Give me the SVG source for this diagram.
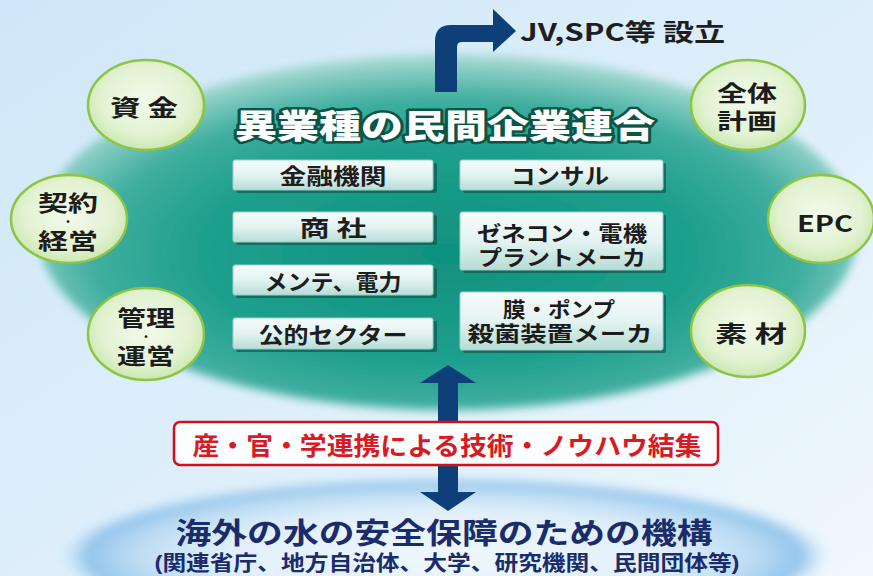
<svg xmlns="http://www.w3.org/2000/svg" width="873" height="576" viewBox="0 0 873 576">
<defs>
<linearGradient id="bg" x1="0" y1="0" x2="1" y2="1">
<stop offset="0" stop-color="#cfe7f8"/>
<stop offset="0.6" stop-color="#e0f0fb"/>
<stop offset="1" stop-color="#f0f8fd"/>
</linearGradient>
<radialGradient id="teal" cx="0.5" cy="0.56" r="0.6">
<stop offset="0" stop-color="#10907e"/>
<stop offset="0.5" stop-color="#1e9f8d"/>
<stop offset="0.72" stop-color="#3fae9f"/>
<stop offset="0.86" stop-color="#86ccc2"/>
<stop offset="0.97" stop-color="#c4e6e3"/>
<stop offset="1" stop-color="#d8eef2" stop-opacity="0"/>
</radialGradient>
<radialGradient id="blueglow" cx="0.5" cy="0.5" r="0.5">
<stop offset="0" stop-color="#eef7fd"/>
<stop offset="0.55" stop-color="#e2f0fb"/>
<stop offset="0.8" stop-color="#bcdcf3"/>
<stop offset="0.92" stop-color="#93c5ec"/>
<stop offset="1" stop-color="#cfe7f8" stop-opacity="0"/>
</radialGradient>
<radialGradient id="bub" cx="0.5" cy="0.45" r="0.55">
<stop offset="0" stop-color="#f3faea"/>
<stop offset="0.7" stop-color="#e2f2d2"/>
<stop offset="1" stop-color="#cbe8b0"/>
</radialGradient>
<linearGradient id="box" x1="0" y1="0" x2="0" y2="1">
<stop offset="0" stop-color="#f6fcfb"/>
<stop offset="0.5" stop-color="#e3f3f1"/>
<stop offset="1" stop-color="#b6dcd6"/>
</linearGradient>
<filter id="soft" x="-10%" y="-10%" width="120%" height="120%">
<feGaussianBlur stdDeviation="5"/>
</filter>
</defs>
<style>
.bubble{fill:url(#bub);stroke:#8dc443;stroke-width:2.5}
.shadow{fill:#0c5d52;opacity:0.75}
.card{fill:url(#box);stroke:#9fd0c8;stroke-width:1}
.bt{font-family:"Noto Sans CJK JP","Noto Sans",sans-serif;font-weight:bold;fill:#1e1e1e;text-anchor:middle}
.ml{font-family:"Liberation Sans","Noto Sans CJK JP",sans-serif;font-weight:bold;text-anchor:middle}
.ct{font-family:"Noto Sans CJK JP","Noto Sans",sans-serif;font-weight:bold;fill:#1c1c1c;text-anchor:middle}
.dark{fill:#1c1c1c}
.dot{font-weight:900;font-size:10px}
.arrow{fill:#0e3f78}
</style>
<rect x="0" y="0" width="873" height="576" fill="url(#bg)"/>
<ellipse cx="444" cy="556" rx="388" ry="80" fill="url(#blueglow)" filter="url(#soft)"/>
<ellipse cx="448" cy="232" rx="410" ry="178" fill="url(#teal)" filter="url(#soft)"/>

<g id="connectors">
<path class="arrow" d="M435,92 L435,41 Q435,25 451,25 L493,25 L493,9 L516,31 L493,52 L493,42 L462,42 Q457,42 457,47 L457,92 Z"/>
<path class="arrow" d="M448,365 L476,383 L458,383 L458,492 L476,492 L448,511 L420,492 L438,492 L438,383 L420,383 Z"/>
</g>

<g id="jv">
<text x="520" y="41" font-family="Noto Sans CJK JP, Noto Sans, sans-serif" font-weight="bold" font-size="24" fill="#1e1e1e" textLength="205" lengthAdjust="spacingAndGlyphs">JV,SPC等 設立</text>
</g>

<g id="title">
<text x="445" y="138" font-family="Noto Sans CJK JP, Noto Sans, sans-serif" font-weight="900" font-size="33" fill="#ffffff" stroke="#0b5547" stroke-width="5" stroke-linejoin="round" paint-order="stroke" text-anchor="middle" textLength="420" lengthAdjust="spacingAndGlyphs">異業種の民間企業連合</text>
</g>

<g id="n-kinyu"><rect class="shadow" x="236" y="163" width="201" height="30" rx="2"/><rect class="card" x="233" y="160" width="200" height="30" rx="2"/><text class="bt" x="333" y="184" font-size="22" textLength="107" lengthAdjust="spacingAndGlyphs">金融機関</text></g>
<g id="n-shosha"><rect class="shadow" x="236" y="215" width="201" height="30" rx="2"/><rect class="card" x="233" y="212" width="200" height="30" rx="2"/><text class="bt" x="333" y="236" font-size="22" textLength="67" lengthAdjust="spacingAndGlyphs">商 社</text></g>
<g id="n-mente"><rect class="shadow" x="236" y="268" width="201" height="30" rx="2"/><rect class="card" x="233" y="265" width="200" height="30" rx="2"/><text class="bt" x="333" y="290" font-size="22" textLength="137" lengthAdjust="spacingAndGlyphs">メンテ、電力</text></g>
<g id="n-koteki"><rect class="shadow" x="236" y="321" width="201" height="31" rx="2"/><rect class="card" x="233" y="318" width="200" height="31" rx="2"/><text class="bt" x="333" y="343" font-size="22" textLength="149" lengthAdjust="spacingAndGlyphs">公的セクター</text></g>
<g id="n-consul"><rect class="shadow" x="463" y="163" width="203" height="30" rx="2"/><rect class="card" x="460" y="160" width="203" height="30" rx="2"/><text class="bt" x="560" y="184" font-size="22" textLength="98" lengthAdjust="spacingAndGlyphs">コンサル</text></g>
<g id="n-zenecon"><rect class="shadow" x="463" y="215" width="203" height="58" rx="2"/><rect class="card" x="460" y="212" width="203" height="58" rx="2"/><text class="ml dark" font-size="21"><tspan x="562" y="241" textLength="170" lengthAdjust="spacingAndGlyphs">ゼネコン・電機</tspan><tspan x="562" y="265" textLength="168" lengthAdjust="spacingAndGlyphs">プラントメーカ</tspan></text></g>
<g id="n-maku"><rect class="shadow" x="463" y="295" width="203" height="58" rx="2"/><rect class="card" x="460" y="292" width="203" height="58" rx="2"/><text class="ml dark" font-size="21"><tspan x="559" y="317" textLength="112" lengthAdjust="spacingAndGlyphs">膜・ポンプ</tspan><tspan x="560" y="341" textLength="185" lengthAdjust="spacingAndGlyphs">殺菌装置メーカ</tspan></text></g>

<g id="c-shikin"><ellipse class="bubble" cx="146" cy="105" rx="58" ry="45"/><text class="ct" x="144" y="116" font-size="23" textLength="68" lengthAdjust="spacingAndGlyphs">資 金</text></g>
<g id="c-keiyaku"><ellipse class="bubble" cx="69" cy="219" rx="58" ry="44"/><text class="ml dark" font-size="22"><tspan x="68" y="211" textLength="60" lengthAdjust="spacingAndGlyphs">契約</tspan><tspan class="dot" x="68" y="226">・</tspan><tspan x="68" y="249" textLength="60" lengthAdjust="spacingAndGlyphs">経営</tspan></text></g>
<g id="c-kanri"><ellipse class="bubble" cx="146" cy="334" rx="58" ry="46"/><text class="ml dark" font-size="22"><tspan x="146" y="326" textLength="58" lengthAdjust="spacingAndGlyphs">管理</tspan><tspan class="dot" x="146" y="341">・</tspan><tspan x="146" y="364" textLength="58" lengthAdjust="spacingAndGlyphs">運営</tspan></text></g>
<g id="c-zentai"><ellipse class="bubble" cx="748" cy="105" rx="57" ry="45"/><text class="ml dark" font-size="22"><tspan x="747" y="101" textLength="60" lengthAdjust="spacingAndGlyphs">全体</tspan><tspan x="747" y="129" textLength="60" lengthAdjust="spacingAndGlyphs">計画</tspan></text></g>
<g id="c-epc"><ellipse class="bubble" cx="821" cy="219" rx="53" ry="44"/><text class="ct" x="825" y="232" font-size="22" textLength="56" lengthAdjust="spacingAndGlyphs">EPC</text></g>
<g id="c-sozai"><ellipse class="bubble" cx="748" cy="331" rx="57" ry="46"/><text class="ct" x="751" y="342" font-size="23" textLength="72" lengthAdjust="spacingAndGlyphs">素 材</text></g>

<g id="n-renkei">
<rect x="174" y="422" width="544" height="43" rx="6" fill="#fbfdfe" stroke="#d0121d" stroke-width="2.5"/>
<text x="447" y="455" font-family="Noto Sans CJK JP, Noto Sans, sans-serif" font-weight="bold" font-size="25" fill="#d71a24" text-anchor="middle" textLength="509" lengthAdjust="spacingAndGlyphs">産・官・学連携による技術・ノウハウ結集</text>
</g>

<g id="n-kiko">
<text class="ml" fill="#1b2c6b"><tspan x="444" y="544" font-size="29" textLength="537" lengthAdjust="spacingAndGlyphs">海外の水の安全保障のための機構</tspan><tspan x="447" y="570" font-size="21" textLength="585" lengthAdjust="spacingAndGlyphs">(関連省庁、地方自治体、大学、研究機関、民間団体等)</tspan></text>
</g>
</svg>
